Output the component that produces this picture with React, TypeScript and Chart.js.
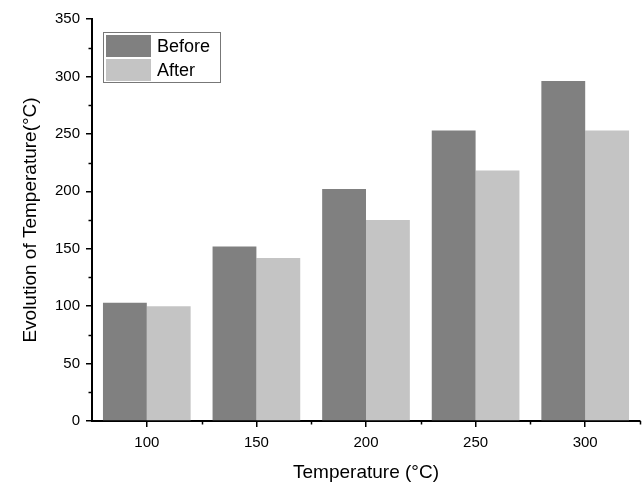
import React, { useEffect, useRef } from "react";
import { Chart, registerables } from "chart.js";

Chart.register(...registerables);

const categories = ["100", "150", "200", "250", "300"];
const beforeValues = [103, 152, 202, 253, 296];
const afterValues = [100, 142, 175, 218, 253];
const seriesNames = ["Before", "After"];
const seriesColors = ["#808080", "#c4c4c4"];
const yMinorTicks = [25, 75, 125, 175, 225, 275, 325];

const FONT = "'Liberation Sans', Arial, sans-serif";

const extrasPlugin = {
  id: "extras",
  afterDraw(chart: any) {
    const ctx = chart.ctx;
    const area = chart.chartArea;
    const x = chart.scales.x;
    const y = chart.scales.y;
    ctx.save();
    ctx.strokeStyle = "#000";
    ctx.lineWidth = 1.5;
    for (const v of yMinorTicks) {
      const py = Math.round(y.getPixelForValue(v)) + 0.5;
      ctx.beginPath();
      ctx.moveTo(area.left - 3.5, py);
      ctx.lineTo(area.left, py);
      ctx.stroke();
    }
    const n = categories.length;
    for (let i = 1; i <= n; i++) {
      const px = Math.round(x.getPixelForValue(i - 0.5)) + 0.5;
      ctx.beginPath();
      ctx.moveTo(px, area.bottom);
      ctx.lineTo(px, area.bottom + 3.5);
      ctx.stroke();
    }
    const lx = area.left + 11;
    const ly = area.top + 13;
    const w = 117;
    const h = 50;
    ctx.strokeStyle = "#777";
    ctx.lineWidth = 1;
    ctx.strokeRect(lx + 0.5, ly + 0.5, w, h);
    ctx.font = `18px ${FONT}`;
    ctx.textBaseline = "middle";
    for (let i = 0; i < seriesNames.length; i++) {
      const sy = ly + 3 + i * 24;
      ctx.fillStyle = seriesColors[i];
      ctx.fillRect(lx + 3, sy, 45, 22);
      ctx.fillStyle = "#000";
      ctx.fillText(seriesNames[i], lx + 54, sy + 12);
    }
    ctx.restore();
  },
};

export default function App() {
  const ref = useRef<HTMLCanvasElement>(null);
  useEffect(() => {
    const chart = new Chart(ref.current!, {
      type: "bar",
      data: {
        labels: categories,
        datasets: [
          { label: seriesNames[0], data: beforeValues, backgroundColor: seriesColors[0], borderWidth: 0 },
          { label: seriesNames[1], data: afterValues, backgroundColor: seriesColors[1], borderWidth: 0 },
        ],
      },
      options: {
        animation: false,
        responsive: false,
        devicePixelRatio: 1,
        layout: { padding: { top: 19, right: 2, left: 0, bottom: 0 } },
        plugins: { legend: { display: false }, tooltip: { enabled: false } },
        datasets: { bar: { categoryPercentage: 0.8, barPercentage: 1 } },
        scales: {
          x: {
            grid: { drawOnChartArea: false, offset: false, tickLength: 6, color: "#000", lineWidth: 1.5 },
            border: { color: "#000", width: 2 },
            ticks: { color: "#000", font: { family: FONT, size: 15 }, padding: 7, maxRotation: 0 },
            title: { display: true, text: "Temperature (°C)", color: "#000", font: { family: FONT, size: 19 }, padding: { top: 1, bottom: 0 } },
            afterFit(scale: any) { scale.height = 63; },
          },
          y: {
            min: 0,
            max: 350,
            grid: { drawOnChartArea: false, tickLength: 6, color: "#000", lineWidth: 1.5 },
            border: { color: "#000", width: 2 },
            ticks: { stepSize: 50, color: "#000", font: { family: FONT, size: 15 }, padding: 6 },
            title: { display: true, text: "Evolution of Temperature(°C)", color: "#000", font: { family: FONT, size: 19 }, padding: { top: 19, bottom: 0 } },
            afterFit(scale: any) { scale.width = 92; },
          },
        },
      },
      plugins: [extrasPlugin],
    });
    return () => chart.destroy();
  }, []);
  return (
    <div style={{ position: "fixed", left: 0, top: 0, width: 642, height: 484, background: "#fff" }}>
      <canvas ref={ref} width={642} height={484} style={{ width: 642, height: 484 }} />
    </div>
  );
}
